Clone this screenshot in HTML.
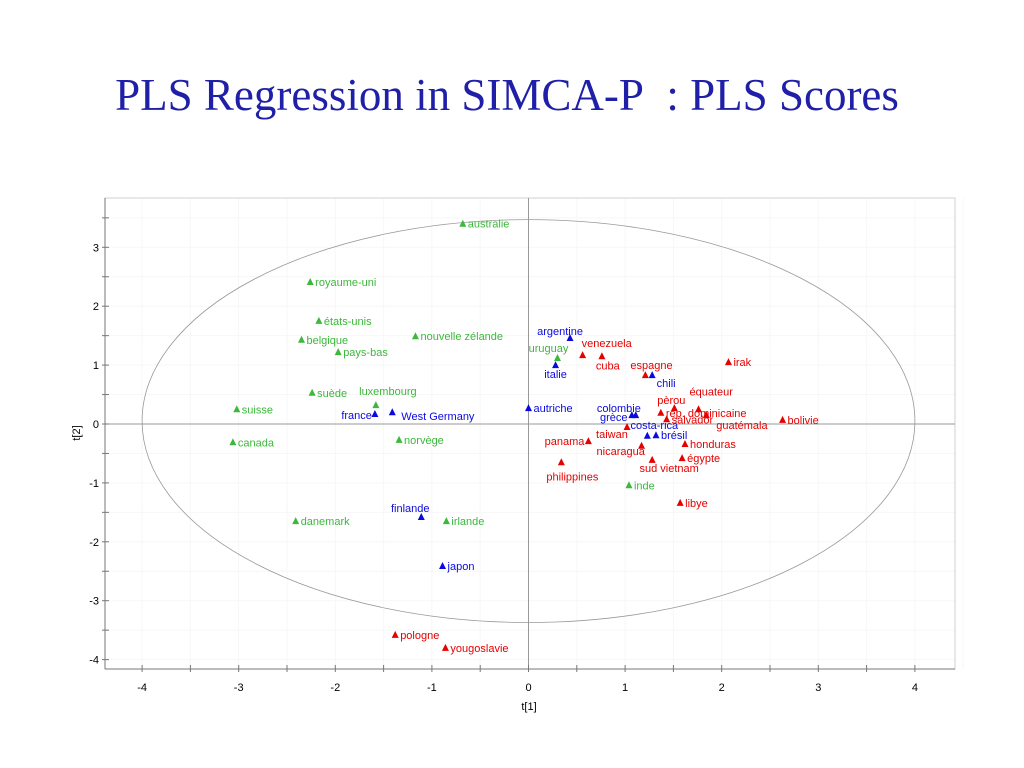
<!DOCTYPE html>
<html><head><meta charset="utf-8"><style>
html,body{margin:0;padding:0;background:#fff;}
svg{display:block;}
</style></head><body>
<svg id="chart" width="1024" height="768" xmlns="http://www.w3.org/2000/svg" font-family="Liberation Sans, sans-serif">
<text x="507" y="110" text-anchor="middle" font-family="Liberation Serif, serif" font-size="45" fill="#1f1fa8">PLS Regression in SIMCA-P&#160; : PLS Scores</text>
<g id="plot"></g>
</svg>
<script>
const names = ["australie","royaume-uni","états-unis","nouvelle zélande","belgique","pays-bas","uruguay","suède","luxembourg","suisse","canada","norvège","inde","danemark","irlande",
"argentine","italie","france","West Germany","autriche","colombie","grèce","chili","costa-rica","brésil","finlande","japon",
"venezuela","cuba","espagne","irak","équateur","pèrou","rep. dominicaine","salvador","guatémala","bolivie","taiwan","panama","nicaragua","honduras","égypte","sud vietnam","philippines","libye","pologne","yougoslavie"];
const groups = ["g","g","g","g","g","g","g","g","g","g","g","g","g","g","g",
"b","b","b","b","b","b","b","b","b","b","b","b",
"r","r","r","r","r","r","r","r","r","r","r","r","r","r","r","r","r","r","r","r"];
const t1 = [-0.68,-2.26,-2.17,-1.17,-2.35,-1.97,0.30,-2.24,-1.58,-3.02,-3.06,-1.34,1.04,-2.41,-0.85,
0.43,0.28,-1.59,-1.41,0.00,1.07,1.11,1.28,1.23,1.32,-1.11,-0.89,
0.56,0.76,1.21,2.07,1.76,1.51,1.37,1.43,1.84,2.63,1.02,0.62,1.17,1.62,1.59,1.28,0.34,1.57,-1.38,-0.86];
const t2 = [3.40,2.41,1.75,1.49,1.43,1.22,1.12,0.53,0.32,0.25,-0.31,-0.27,-1.04,-1.65,-1.65,
1.46,1.00,0.17,0.20,0.27,0.15,0.15,0.83,-0.20,-0.19,-1.58,-2.41,
1.17,1.15,0.83,1.05,0.25,0.27,0.19,0.08,0.15,0.07,-0.05,-0.29,-0.37,-0.34,-0.58,-0.61,-0.65,-1.34,-3.58,-3.80];
const labelPos = ["r","r","r","r","r","r","ua","r","lux","r","r","r","r","r","r",
"arg","b","fr","wg","r","col","gr","chi","cr","r","fin","r",
"ar","bl","esp","r","equ","per","r","r","gu","r","tai","l","nic","r","r","sv","phi","r","r","r"];
const xTicks = [-4,-3,-2,-1,0,1,2,3,4];
const yTicks = [3,2,1,0,-1,-2,-3,-4];

const L=105,R=955,T=198,B=669;
const X0=528.5, XS=96.6, Y0=424, YS=58.9;
const sx=v=>X0+v*XS, sy=v=>Y0-v*YS;
const NS="http://www.w3.org/2000/svg";
const g=document.getElementById('plot');
function mk(tag,attrs,parent){const e=document.createElementNS(NS,tag);for(const k in attrs)e.setAttribute(k,attrs[k]);(parent||g).appendChild(e);return e;}
const colors={g:"#3cb83c",b:"#0a0ae0",r:"#e60000"};

for(let v=-4;v<=4.5;v+=0.5){const gl=mk('line',{x1:sx(v),x2:sx(v),y1:T,y2:B,stroke:"#f7f7f7","stroke-width":1});

}
for(let v=-4;v<=3.5;v+=0.5){const gl=mk('line',{x1:L,x2:R,y1:sy(v),y2:sy(v),stroke:"#f7f7f7","stroke-width":1});

}
const fr=mk('rect',{x:L,y:T,width:R-L,height:B-T,fill:"none",stroke:"#d0d0d0"});


mk('line',{x1:L,x2:L,y1:T,y2:B,stroke:"#777"});
mk('line',{x1:L,x2:R,y1:B,y2:B,stroke:"#777"});
const zx=mk('line',{x1:L,x2:R,y1:sy(0),y2:sy(0),stroke:"#999"});


const zy=mk('line',{x1:sx(0),x2:sx(0),y1:T,y2:B,stroke:"#999"});


const el=mk('ellipse',{cx:sx(0),cy:sy(0.05),rx:4.0*XS,ry:3.42*YS,fill:"none",stroke:"#999","stroke-width":0.8});


for(let v=-4;v<=4;v+=0.5){mk('line',{x1:sx(v),x2:sx(v),y1:B-4,y2:B+3,stroke:"#777"});}
for(let v=-4;v<=3.5;v+=0.5){mk('line',{x1:L-3,x2:L+4,y1:sy(v),y2:sy(v),stroke:"#777"});}
xTicks.forEach(v=>{const t=mk('text',{x:sx(v),y:B+22,"text-anchor":"middle","font-size":11,fill:"#000"});t.textContent=v;

});
yTicks.forEach(v=>{const t=mk('text',{x:L-6,y:sy(v)+4,"text-anchor":"end","font-size":11,fill:"#000"});t.textContent=v;

});
const xt=mk('text',{x:529,y:710,"text-anchor":"middle","font-size":11});xt.textContent="t[1]";


const yt=mk('text',{x:80,y:433,"text-anchor":"middle","font-size":11,transform:"rotate(-90 80 433)"});yt.textContent="t[2]";



const off={r:[5,4,"start"],l:[-4,4,"end"],b:[0,13,"middle"],ua:[-9,-6,"middle"],lux:[12,-10,"middle"],
arg:[-10,-3,"middle"],fr:[-3,5,"end"],chi:[14,12,"middle"],fin:[-11,-5,"middle"],
wg:[9,8,"start"],col:[-13,-3,"middle"],gr:[-22,6,"middle"],cr:[7,-7,"middle"],ar:[-1,-8,"start"],
bl:[-6,13,"start"],esp:[-15,-6,"start"],gu:[10,14,"start"],equ:[-9,-14,"start"],per:[-3,-4,"middle"],
tai:[-31,11,"start"],nic:[-45,9,"start"],sv:[17,12,"middle"],phi:[11,18,"middle"]};
names.forEach((n,i)=>{
  const x=sx(t1[i]), y=sy(t2[i]), c=colors[groups[i]];
  const p=mk('polygon',{points:`${x},${y-4} ${x-3.5},${y+3} ${x+3.5},${y+3}`,fill:c});
  
  
  const o=off[labelPos[i]];
  const t=mk('text',{x:x+o[0],y:y+o[1],"text-anchor":o[2],"font-size":11,fill:c});
  t.textContent=n;
  
  
});
</script>
</body></html>
